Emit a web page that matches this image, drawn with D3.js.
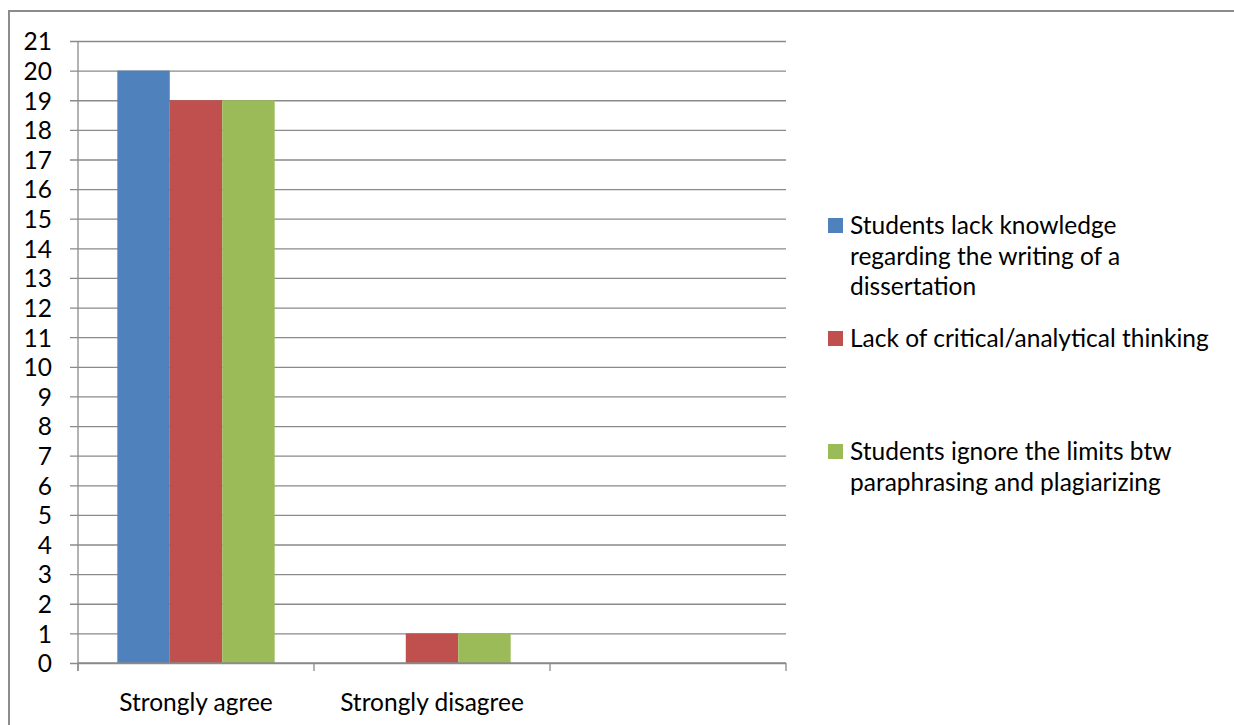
<!DOCTYPE html>
<html>
<head>
<meta charset="utf-8">
<script src="https://cdn.jsdelivr.net/npm/d3@7"></script>
<style>
  html, body { margin: 0; padding: 0; background: #fff; }
  svg { display: block; }
  text { font-family: Lato, "Open Sans", sans-serif; fill: #000; }
</style>
</head>
<body>
<svg id="chart" width="1234" height="725"></svg>
<script>
// Response categories along the x axis (third slot is unlabeled and empty)
const categories = ["Strongly agree", "Strongly disagree", ""];

// Series names, shown in the legend (each split into its wrapped lines)
const seriesNames = [
  ["Students lack knowledge", "regarding the writing of a", "dissertation"],
  ["Lack of critical/analytical thinking"],
  ["Students ignore the limits btw", "paraphrasing and plagiarizing"]
];

// Counts per category for each series
const lackKnowledge = [20, 0, 0];
const lackCritical = [19, 1, 0];
const ignoreLimits = [19, 1, 0];

const yTicks = d3.range(0, 22);
const colors = ["#4F81BD", "#C0504D", "#9BBB59"];

const seriesValues = [lackKnowledge, lackCritical, ignoreLimits];
const seriesIdx = [0, 1, 2];

const svg = d3.select("#chart");
const W = 1234, H = 725;
const plot = { left: 78, right: 786, top: 41, bottom: 663 };

const fontSize = 24.5;
const axisColor = "#8a8a8a";

// Outer chart frame
svg.append("path")
  .attr("d", `M9,${H} L9,11 L${W},11`)
  .attr("fill", "none")
  .attr("stroke", "#8c8c8c")
  .attr("stroke-width", 2);

const y = d3.scaleLinear().domain([0, 21]).range([plot.bottom, plot.top]);
const x0 = d3.scaleBand().domain(d3.range(categories.length))
  .range([plot.left, plot.right]).paddingInner(0).paddingOuter(0);
const x1 = d3.scaleBand().domain(seriesIdx)
  .range([0, x0.bandwidth()]).paddingInner(0).paddingOuter(0.75);

// Horizontal gridlines with short tick stubs to the left of the axis
const yAxis = d3.axisLeft(y).tickValues(yTicks)
  .tickSize(-(plot.right - plot.left)).tickSizeOuter(0).tickPadding(0)
  .tickFormat(d3.format("d"));
const gy = svg.append("g").attr("transform", `translate(${plot.left},0)`).call(yAxis);
gy.select(".domain").remove();
gy.selectAll(".tick line")
  .attr("x1", -8)
  .attr("stroke", axisColor).attr("stroke-width", 1.3);
gy.selectAll(".tick text")
  .attr("x", -26)
  .attr("dy", "0.36em")
  .style("font-family", "Lato, sans-serif")
  .style("font-size", fontSize + "px")
  .attr("fill", "#000");

// Bars
const groups = svg.append("g").selectAll("g")
  .data(categories.map((c, i) => i))
  .join("g")
  .attr("transform", i => `translate(${x0(i)},0)`);

groups.selectAll("rect")
  .data(i => seriesIdx.map(s => ({ s, v: seriesValues[s][i] })))
  .join("rect")
  .attr("x", d => x1(d.s))
  .attr("width", x1.bandwidth())
  .attr("y", d => y(d.v))
  .attr("height", d => y(0) - y(d.v))
  .attr("fill", d => colors[d.s]);

// Vertical axis line
svg.append("line")
  .attr("x1", plot.left).attr("x2", plot.left)
  .attr("y1", plot.top).attr("y2", plot.bottom + 8)
  .attr("stroke", axisColor).attr("stroke-width", 1.3);

// Category axis with boundary ticks
const boundaries = d3.range(categories.length + 1).map(i =>
  i < categories.length ? x0(i) : x0(categories.length - 1) + x0.bandwidth());
svg.append("line")
  .attr("x1", plot.left).attr("x2", plot.right)
  .attr("y1", plot.bottom).attr("y2", plot.bottom)
  .attr("stroke", axisColor).attr("stroke-width", 1.3);
svg.append("g").selectAll("line")
  .data(boundaries)
  .join("line")
  .attr("x1", d => d).attr("x2", d => d)
  .attr("y1", plot.bottom).attr("y2", plot.bottom + 8)
  .attr("stroke", axisColor).attr("stroke-width", 1.3);

svg.append("g").selectAll("text")
  .data(categories)
  .join("text")
  .attr("x", (c, i) => x0(i) + x0.bandwidth() / 2)
  .attr("y", 711)
  .attr("text-anchor", "middle")
  .style("font-size", fontSize + "px")
  .text(c => c);

// Legend
const legendTops = [218, 331, 444];
const lineStep = 30.5;
const legend = svg.append("g");
seriesIdx.forEach(s => {
  const top = legendTops[s];
  legend.append("rect")
    .attr("x", 828).attr("y", top)
    .attr("width", 15).attr("height", 15)
    .attr("fill", colors[s]);
  legend.append("g").selectAll("text")
    .data(seriesNames[s])
    .join("text")
    .attr("x", 850)
    .attr("y", (t, k) => top + 16 + k * lineStep)
    .style("font-size", fontSize + "px")
    .text(t => t);
});
</script>
</body>
</html>
